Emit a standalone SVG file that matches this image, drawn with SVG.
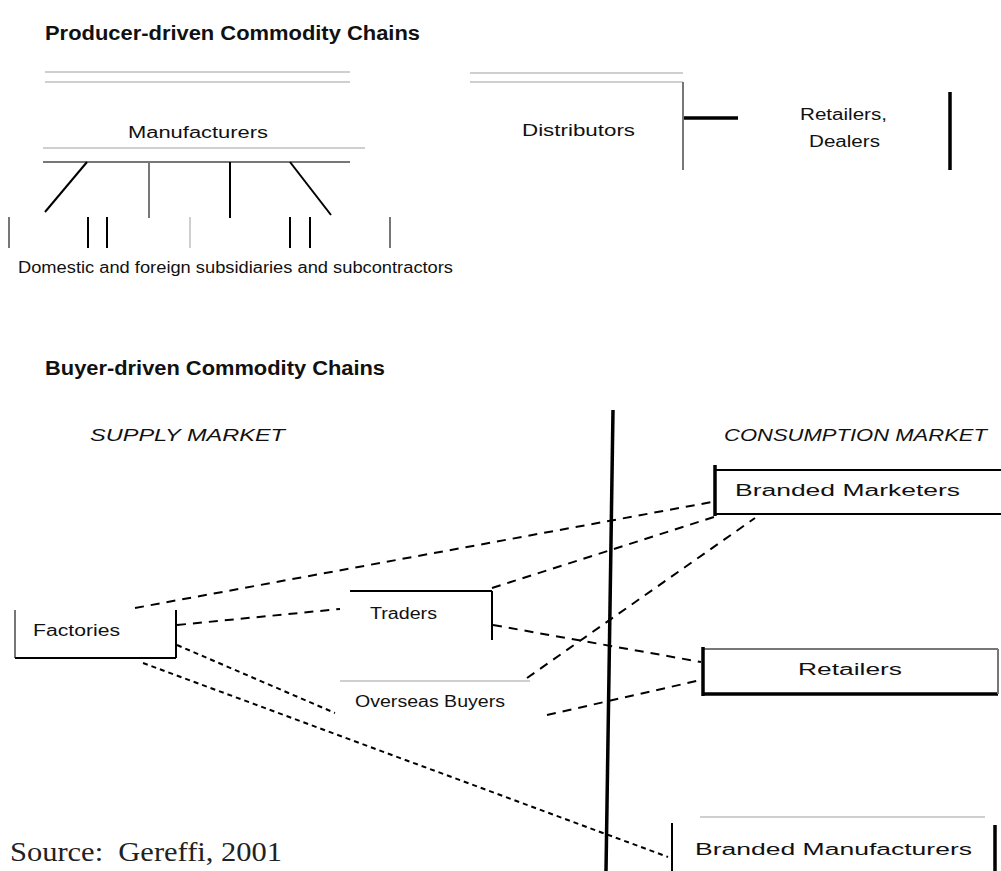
<svg xmlns="http://www.w3.org/2000/svg" width="1001" height="871" viewBox="0 0 1001 871">
<style>
text{font-family:"Liberation Sans",Arial,sans-serif;fill:#111}
.title{font-weight:bold;font-size:20px}
.lbl{font-size:16px}
.ital{font-style:italic;font-size:16px}
.src{font-family:"Liberation Serif","Times New Roman",serif;font-size:28px;fill:#222}
.faint{stroke:#cfcfcf;stroke-width:2;fill:none}
.gray{stroke:#777;stroke-width:2;fill:none}
.blk{stroke:#000;stroke-width:2;fill:none}
.thick{stroke:#000;stroke-width:3.5;fill:none}
.dash{stroke:#000;stroke-width:2;stroke-dasharray:9 7;fill:none}
.dot{stroke:#000;stroke-width:2;stroke-dasharray:5 4;fill:none}
</style>
<rect width="1001" height="871" fill="#fff"/>

<!-- Producer-driven -->
<g id="producer-title"><text class="title" x="45" y="40" textLength="375" lengthAdjust="spacingAndGlyphs">Producer-driven Commodity Chains</text></g>
<g id="top-frame">
<line class="faint" x1="45" y1="72" x2="350" y2="72"/>
<line class="faint" x1="45" y1="82" x2="350" y2="82"/>
<line class="faint" x1="470" y1="73" x2="683" y2="73"/>
<line class="faint" x1="470" y1="82" x2="683" y2="82"/>
<line class="gray" x1="683" y1="82" x2="683" y2="170"/>
</g>
<g id="manufacturers"><text class="lbl" x="128" y="138" textLength="140" lengthAdjust="spacingAndGlyphs">Manufacturers</text></g>
<g id="distributors"><text class="lbl" x="522" y="136" textLength="113" lengthAdjust="spacingAndGlyphs">Distributors</text></g>
<g id="retailers-dealers">
<text class="lbl" x="800" y="120" textLength="87" lengthAdjust="spacingAndGlyphs">Retailers,</text>
<text class="lbl" x="809" y="147" textLength="71" lengthAdjust="spacingAndGlyphs">Dealers</text>
</g>
<g id="subsidiaries"><text class="lbl" font-size="14" x="18" y="273" textLength="435" lengthAdjust="spacingAndGlyphs">Domestic and foreign subsidiaries and subcontractors</text></g>

<g id="producer-connectors">
<line class="faint" x1="43" y1="148" x2="365" y2="148"/>
<line class="gray" x1="43" y1="162" x2="350" y2="162"/>
<line class="blk" x1="87" y1="162" x2="45" y2="212"/>
<line class="gray" x1="149" y1="162" x2="149" y2="218"/>
<line class="blk" x1="230" y1="162" x2="230" y2="218"/>
<line class="blk" x1="290" y1="162" x2="331" y2="215"/>
<line class="gray" x1="9" y1="217" x2="9" y2="248"/>
<line class="blk" x1="88" y1="217" x2="88" y2="248"/>
<line class="blk" x1="107" y1="217" x2="107" y2="248"/>
<line class="faint" x1="190" y1="217" x2="190" y2="248"/>
<line class="blk" x1="290" y1="217" x2="290" y2="248"/>
<line class="blk" x1="310" y1="217" x2="310" y2="248"/>
<line class="gray" x1="390" y1="217" x2="390" y2="248"/>
<line class="thick" x1="684" y1="118" x2="738" y2="118"/>
<line class="thick" x1="950" y1="92" x2="950" y2="170"/>
</g>

<!-- Buyer-driven -->
<g id="buyer-title"><text class="title" font-size="19" x="45" y="375" textLength="340" lengthAdjust="spacingAndGlyphs">Buyer-driven Commodity Chains</text></g>
<g id="supply-market"><text class="ital" x="90" y="441" textLength="195" lengthAdjust="spacingAndGlyphs">SUPPLY MARKET</text></g>
<g id="consumption-market"><text class="ital" x="724" y="441" textLength="263" lengthAdjust="spacingAndGlyphs">CONSUMPTION MARKET</text></g>

<g id="factories">
<line class="gray" x1="15" y1="610" x2="15" y2="658"/>
<line class="blk" x1="15" y1="658" x2="176" y2="658"/>
<line class="blk" x1="176" y1="610" x2="176" y2="658"/>
<text class="lbl" x="33" y="636" textLength="87" lengthAdjust="spacingAndGlyphs">Factories</text>
</g>
<g id="traders">
<line class="blk" x1="350" y1="591" x2="492" y2="591"/>
<line class="blk" x1="492" y1="591" x2="492" y2="640"/>
<text class="lbl" x="370" y="619" textLength="67" lengthAdjust="spacingAndGlyphs">Traders</text>
</g>
<g id="overseas-buyers">
<line class="faint" x1="340" y1="681" x2="530" y2="681"/>
<text class="lbl" x="355" y="707" textLength="150" lengthAdjust="spacingAndGlyphs">Overseas Buyers</text>
</g>
<g id="branded-marketers">
<line class="blk" x1="715" y1="470" x2="1001" y2="470"/>
<line class="blk" x1="715" y1="514" x2="1001" y2="514"/>
<line class="thick" x1="715" y1="465" x2="715" y2="516"/>
<text class="lbl" x="735" y="496" textLength="225" lengthAdjust="spacingAndGlyphs">Branded Marketers</text>
</g>
<g id="retailers">
<line class="gray" x1="703" y1="649" x2="998" y2="649"/>
<line class="thick" x1="703" y1="694" x2="998" y2="694"/>
<line class="thick" x1="703" y1="647" x2="703" y2="696"/>
<line class="gray" x1="998" y1="649" x2="998" y2="694"/>
<text class="lbl" x="798" y="675" textLength="104" lengthAdjust="spacingAndGlyphs">Retailers</text>
</g>
<g id="branded-manufacturers">
<line class="faint" x1="700" y1="817" x2="985" y2="817"/>
<line class="blk" x1="672" y1="823" x2="672" y2="871"/>
<line class="thick" x1="995" y1="825" x2="995" y2="871"/>
<text class="lbl" x="695" y="855" textLength="277" lengthAdjust="spacingAndGlyphs">Branded Manufacturers</text>
</g>

<g id="connectors">
<line class="thick" x1="613" y1="410" x2="606" y2="871"/>
<line class="dash" x1="135" y1="608" x2="712" y2="502"/>
<line class="dash" x1="177" y1="625" x2="340" y2="609"/>
<line class="dash" x1="492" y1="588" x2="717" y2="516"/>
<line class="dash" x1="493" y1="625" x2="701" y2="662"/>
<line class="dash" x1="527" y1="678" x2="755" y2="518"/>
<line class="dash" x1="547" y1="715" x2="701" y2="680"/>
<line class="dot" x1="177" y1="645" x2="335" y2="713"/>
<line class="dot" x1="143" y1="663" x2="668" y2="857"/>
</g>

<g id="source"><text class="src" x="10" y="861" textLength="272" lengthAdjust="spacingAndGlyphs">Source:&#160; Gereffi, 2001</text></g>
</svg>
